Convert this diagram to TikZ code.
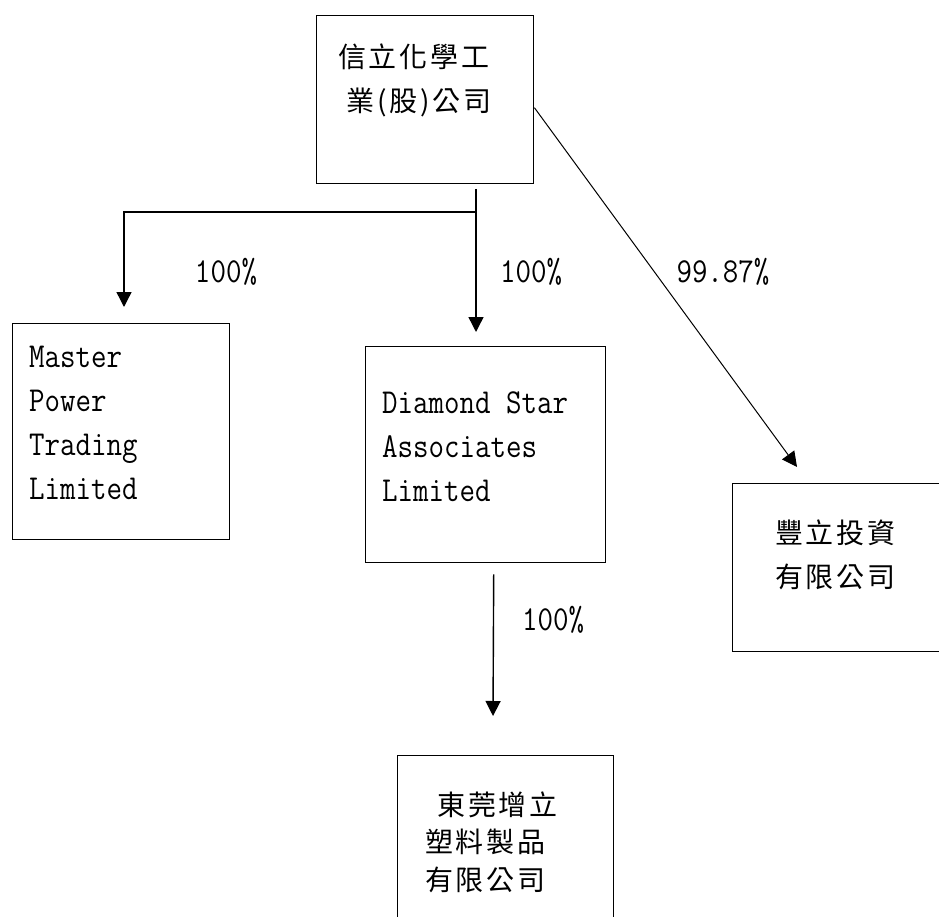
\documentclass[tikz,border=0pt]{standalone}
\usepackage{fontspec}
\newfontfamily\cjk[LetterSpace=10]{Noto Sans CJK TC}
\newfontfamily\latinmono[FakeStretch=0.86]{Latin Modern Mono}
\usetikzlibrary{arrows.meta,calc}
\tikzstyle{company}=[draw, line width=1.4pt, inner sep=0pt, anchor=north west]
\tikzstyle{entext}=[anchor=west, align=left, inner sep=0pt, font=\fontsize{35}{44}\selectfont\latinmono]
\tikzstyle{cjktext}=[anchor=west, align=left, inner sep=0pt, font=\fontsize{28}{44}\selectfont\cjk]
\tikzstyle{share}=[inner sep=0pt, font=\fontsize{35}{40}\selectfont\latinmono]
\tikzstyle{owns}=[line width=1.4pt, -{Triangle[length=15pt,width=15pt]}]

\begin{document}
\begin{tikzpicture}[x=1pt, y=-1pt]
\useasboundingbox (0,0) rectangle (939,917);
\node[company, minimum width=217pt, minimum height=168pt] at (316,15) (Parent) {};
\node[company, minimum width=217pt, minimum height=216pt] at (12,323) (Master) {};
\node[company, minimum width=240pt, minimum height=216pt] at (365,346) (Diamond) {};
\node[company, minimum width=240pt, minimum height=168pt] at (732,483) (Fengli) {};
\node[company, minimum width=216pt, minimum height=200pt] at (397,755) (Dongguan) {};
\node[cjktext] at (338,80) (ParentT) {信立化學工\\\hspace{8pt}業(股)公司};
\node[entext] at (29,423) (MasterT) {Master\\Power\\Trading\\Limited};
\node[entext] at (382,447) (DiamondT) {Diamond Star\\Associates\\Limited};
\node[cjktext] at (775,555) (FengliT) {豐立投資\\有限公司};
\node[cjktext, font=\fontsize{28}{37.5}\selectfont\cjk] at (425,842) (DongguanT) {\hspace{12pt}東莞增立\\塑料製品\\有限公司};
\node[share] at (226,272) (S1) {100\%};
\node[share] at (531,272) (S2) {100\%};
\node[share] at (723,272) (S3) {99.87\%};
\node[share] at (553,620) (S4) {100\%};
\coordinate (trunk) at (476,189);
\coordinate (split) at (476,212);
\coordinate (mtip) at (124,307);
\coordinate (dtip) at (476,332);
\coordinate (ftip) at (797,467);
\coordinate (gtip) at (493,716);
\draw[line width=1.4pt] (trunk) -- (split);
\draw[owns] (split) -| (mtip);
\draw[owns] (split) -- (dtip);
\draw[owns, line width=1pt] ($(Parent.east)+(0,8)$) -- (ftip);
\draw[owns] ($(Diamond.south)+(8,11)$) -- (gtip);
\end{tikzpicture}
\end{document}
